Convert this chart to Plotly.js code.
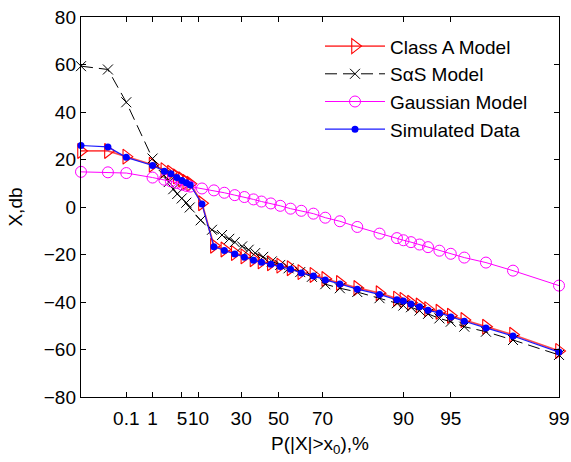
<!DOCTYPE html>
<html>
<head>
<meta charset="utf-8">
<script src="https://cdn.plot.ly/plotly-3.0.1.min.js"></script>
<style>html,body{margin:0;padding:0;background:#fff;}#chart{width:571px;height:462px;}</style>
</head>
<body>
<div id="chart"></div>
<script>
// Probability scale of the x axis (percent -> axis fraction), defined by its anchors
const scalePct = [0.001, 0.01, 0.1, 1, 5, 10, 30, 50, 70, 90, 95, 99];
const scalePos = [0, 0.0474, 0.0947, 0.1497, 0.2112, 0.2459, 0.3351, 0.4131, 0.5051, 0.6745, 0.7736, 1];
const tickPct = [0.1, 1, 5, 10, 30, 50, 70, 90, 95, 99];
const tickLabels = ['0.1', '1', '5', '10', '30', '50', '70', '90', '95', '99'];

// Exceedance probabilities (%) shared by the model curves and the simulated data
const probPct = [0.001, 0.027, 0.1, 1, 2.6, 3.5, 4.3, 5, 6.3, 7.5, 11.6, 17.2, 22.1, 27.0, 31.7, 36.6,
  40.9, 45.9, 50.8, 55.5, 60.4, 65.9, 70.7, 74.3, 78.6, 84.1, 88.4, 90.0, 90.8, 91.7, 92.6, 93.8,
  95.0, 95.5, 96.3, 97.3, 99];

const simulatedDb = [25.9, 25.3, 20.9, 17.5, 15.1, 14.0, 12.4, 11.2, 10.2, 9.3, 1.3, -16.7, -18.3, -19.8,
  -21.2, -22.4, -23.3, -24.1, -25.1, -26.2, -27.8, -29.0, -30.7, -32.4, -34.6, -36.8, -39.1, -39.6,
  -40.8, -42.0, -43.5, -44.6, -46.3, -48.1, -50.9, -54.3, -61.1];

const classADb = [23.6, 23.6, 21.2, 17.8, 15.5, 14.4, 12.9, 11.7, 10.6, 9.8, 1.6, -16.3, -17.9, -19.4,
  -20.8, -22.0, -22.9, -23.7, -24.7, -25.8, -27.4, -28.6, -30.3, -32.0, -34.1, -36.3, -38.6, -39.1,
  -40.3, -41.5, -43.0, -44.1, -45.8, -47.6, -50.4, -53.8, -60.6];

const gaussianDb = [14.8, 14.6, 14.3, 12.4, 11.5, 10.8, 10.1, 9.4, 8.9, 8.6, 7.8, 7.0, 6.0, 5.0, 4.2, 3.2,
  2.3, 1.5, 0.5, -0.7, -1.6, -2.8, -4.5, -6.0, -8.4, -11.2, -13.1, -14.0, -14.8, -15.8, -16.9, -18.4,
  -19.7, -21.3, -23.4, -26.8, -33.1];

// SαS model has its own probability points
const sasPct = [0.001, 0.027, 0.1, 1, 2.52, 3.2, 3.82, 4.36, 4.97, 6.3, 7.34, 11.0, 16.3, 21.0, 24.4, 27.0,
  30.5, 34.0, 37.5, 41.8, 46.4, 50.8, 54.6, 59.9, 65.2, 70.7, 74.3, 78.6, 84.1, 88.4, 90.0, 90.8,
  91.7, 92.6, 93.8, 95.0, 95.5, 96.3, 97.3, 99];
const sasDb = [59.3, 57.9, 44.1, 20.4, 13.5, 10.5, 7.5, 5.5, 3.6, 1.8, -0.2, -5.6, -9.6, -11.8, -13.4, -14.8,
  -16.6, -18.0, -19.4, -21.0, -22.9, -24.4, -25.8, -27.4, -29.4, -32.5, -34.2, -35.8, -38.4, -40.5,
  -41.5, -42.2, -43.6, -45.0, -46.9, -48.3, -50.4, -52.5, -56.0, -62.3];

function probScale(p) {
  for (let i = 0; i < scalePct.length - 1; i++) {
    if (p <= scalePct[i + 1] || i === scalePct.length - 2) {
      const f = (p - scalePct[i]) / (scalePct[i + 1] - scalePct[i]);
      return scalePos[i] + f * (scalePos[i + 1] - scalePos[i]);
    }
  }
}

const FONT = 'Liberation Sans, Arial, Helvetica, sans-serif';

const traces = [
  {
    name: 'Class A Model', x: probPct.map(probScale), y: classADb, mode: 'lines+markers',
    line: {color: '#ff4d4d', width: 1.8},
    marker: {symbol: 'triangle-right-open', size: 13, color: '#ff0000', line: {width: 1.1, color: '#ff0000'}},
    cliponaxis: false
  },
  {
    name: 'SαS Model', x: sasPct.map(probScale), y: sasDb, mode: 'lines+markers',
    line: {color: '#000000', width: 1, dash: '12px,6px'},
    marker: {symbol: 'x-thin-open', size: 10, color: '#000000', line: {width: 1, color: '#000000'}},
    cliponaxis: false
  },
  {
    name: 'Gaussian Model', x: probPct.map(probScale), y: gaussianDb, mode: 'lines+markers',
    line: {color: '#ff00ff', width: 1},
    marker: {symbol: 'circle-open', size: 11, color: '#ff00ff', line: {width: 1, color: '#ff00ff'}},
    cliponaxis: false
  },
  {
    name: 'Simulated Data', x: probPct.map(probScale), y: simulatedDb, mode: 'lines+markers',
    line: {color: '#1a1aff', width: 1.2},
    marker: {symbol: 'circle', size: 7, color: '#0000ff'},
    cliponaxis: false
  }
];

const layout = {
  width: 571, height: 462,
  margin: {l: 81, r: 12, t: 17, b: 65},
  paper_bgcolor: '#ffffff', plot_bgcolor: '#ffffff',
  font: {family: FONT, size: 19, color: '#000000'},
  showlegend: true,
  legend: {
    x: 0.5, y: 0.973, xanchor: 'left', yanchor: 'top',
    bgcolor: 'rgba(255,255,255,0)', borderwidth: 0,
    font: {family: FONT, size: 19, color: '#000000'},
    itemwidth: 60,
    tracegroupgap: 0
  },
  xaxis: {
    range: [0, 1], tickmode: 'array',
    tickvals: tickPct.map(probScale), ticktext: tickLabels,
    tickangle: 0, ticks: 'inside', ticklen: 5, tickcolor: '#000', tickwidth: 1,
    showline: true, linecolor: '#000', linewidth: 1.2, mirror: 'ticks',
    showgrid: false, zeroline: false,
    tickfont: {family: FONT, size: 19, color: '#000'},
    ticklabelstandoff: 4,
    title: {text: 'P(|X|>x<sub>0</sub>),%', font: {family: FONT, size: 19, color: '#000'}, standoff: 8}
  },
  yaxis: {
    range: [-80, 80], tickmode: 'linear', tick0: -80, dtick: 20,
    ticks: 'inside', ticklen: 5, tickcolor: '#000', tickwidth: 1,
    showline: true, linecolor: '#000', linewidth: 1.2, mirror: 'ticks',
    showgrid: false, zeroline: false,
    tickfont: {family: FONT, size: 19, color: '#000'},
    title: {text: 'X,db', font: {family: FONT, size: 19, color: '#000'}, standoff: 16}
  }
};

Plotly.newPlot('chart', traces, layout, {displayModeBar: false, staticPlot: true});
</script>
</body>
</html>
